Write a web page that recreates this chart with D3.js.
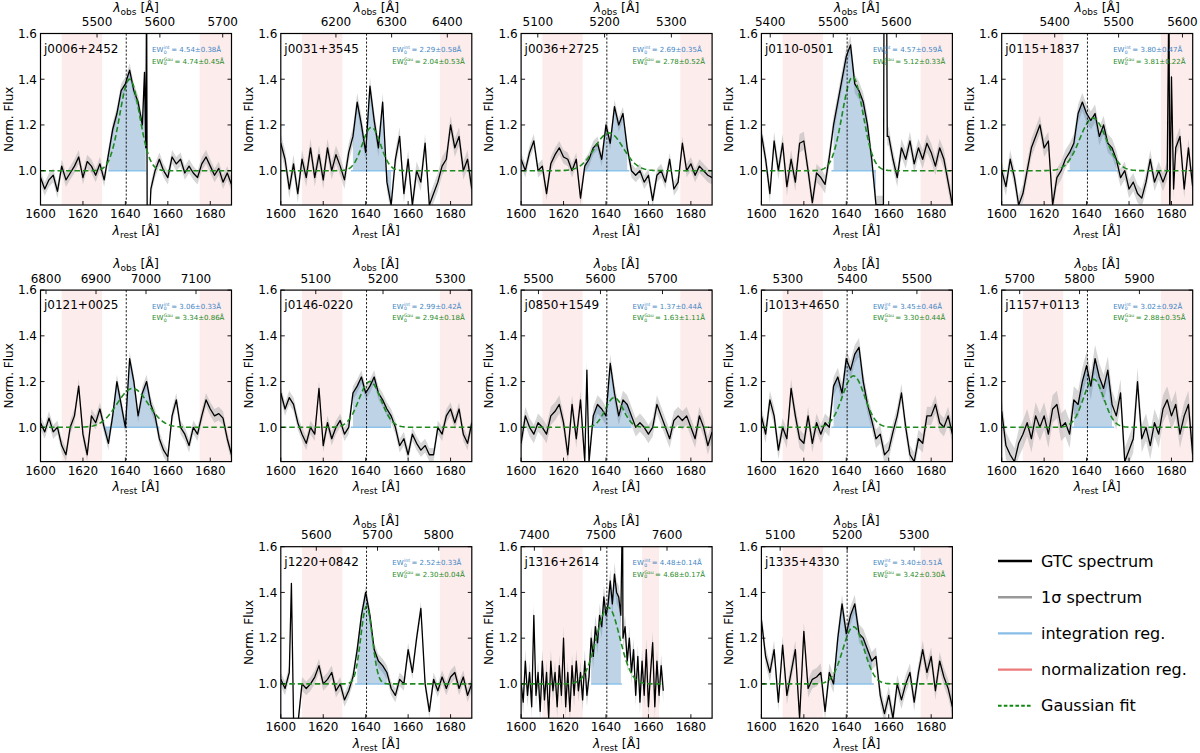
<!DOCTYPE html>
<html>
<head>
<meta charset="utf-8">
<script src="https://cdn.jsdelivr.net/npm/d3@7"></script>
<style>
  body { margin: 0; background: #fff; }
  svg { font-family: "DejaVu Sans", sans-serif; }
</style>
</head>
<body>
<svg id="chart" width="1200" height="753"></svg>
<script>
// ---- data ----
const names = [
  "j0006+2452", "j0031+3545", "j0036+2725", "j0110-0501", "j0115+1837",
  "j0121+0025", "j0146-0220", "j0850+1549", "j1013+4650", "j1157+0113",
  "j1220+0842", "j1316+2614", "j1335+4330",
];

const ewInt = [4.54, 2.29, 2.69, 4.57, 3.80, 3.06, 2.99, 1.37, 3.45, 3.02, 2.52, 4.48, 3.40];
const ewIntErr = [0.38, 0.58, 0.35, 0.59, 0.47, 0.33, 0.42, 0.44, 0.46, 0.92, 0.33, 0.14, 0.51];
const ewGau = [4.74, 2.04, 2.78, 5.12, 3.81, 3.34, 2.94, 1.63, 3.30, 2.88, 2.30, 4.68, 3.42];
const ewGauErr = [0.45, 0.53, 0.52, 0.33, 0.22, 0.86, 0.18, 1.11, 0.44, 0.35, 0.04, 0.17, 0.30];

// observed-frame axis limits (top axis) and its tick labels
const obsDomains = [
  [5410, 5714], [6101, 6444], [5075, 5361], [5386, 5689], [5317, 5616],
  [6789, 7171], [5048, 5332], [5472, 5780], [5259, 5555], [5670, 5989],
  [5542, 5854], [7380, 7668], [5072, 5357],
];
const obsTicks = [
  [5500, 5600, 5700], [6200, 6300, 6400], [5100, 5200, 5300], [5400, 5500, 5600], [5400, 5500, 5600],
  [6800, 6900, 7000, 7100], [5100, 5200, 5300], [5500, 5600, 5700], [5300, 5400, 5500], [5700, 5800, 5900],
  [5600, 5700, 5800], [7400, 7500, 7600], [5100, 5200, 5300],
];

const restTicks = [1600, 1620, 1640, 1660, 1680];
const fluxTicks = [1.0, 1.2, 1.4, 1.6];
const restDomain = [1600, 1690];
const fluxDomain = [0.85, 1.6];
const heII = 1640.4;

// spectra: flux sampled from 1600 Å with the step in gridStep
const gridStep = [2, 2, 2, 2, 2, 2, 2, 2, 2, 2, 2, 1, 2];

const flux_j0006 = [0.97, 0.92, 0.96, 0.98, 0.91, 1.02, 0.96, 0.99, 1.02, 1.06, 0.97, 1.04, 1.02, 0.98, 1.03, 0.96,
  1.07, 1.18, 1.25, 1.35, 1.38, 1.44, 1.35, 1.30, 1.20, 1.80, 0.92, 1.00, 1.05, 1.00, 0.97, 1.06, 1.03, 1.05, 0.99,
  1.02, 0.99, 0.97, 1.03, 1.06, 1.02, 0.98, 1.01, 0.95, 0.99, 0.94];
const flux_j0031 = [1.12, 1.05, 0.92, 1.03, 0.90, 1.05, 0.97, 1.10, 0.97, 1.07, 0.96, 1.10, 1.00, 1.07, 1.02, 0.96,
  1.08, 1.15, 1.30, 1.20, 1.08, 1.37, 1.22, 1.10, 1.30, 0.95, 0.85, 1.05, 1.15, 0.90, 1.05, 0.85, 1.00, 0.95, 1.12,
  0.85, 0.90, 0.95, 1.02, 1.05, 1.20, 1.10, 1.15, 1.00, 1.05, 0.92];
const flux_j0036 = [1.05, 1.00, 1.08, 1.13, 1.00, 1.02, 0.90, 1.03, 1.07, 1.10, 1.06, 1.05, 1.00, 1.05, 0.88, 1.02,
  1.05, 1.10, 1.12, 1.05, 1.20, 1.12, 1.28, 1.20, 1.25, 1.10, 1.00, 0.98, 1.00, 0.95, 0.98, 0.87, 0.98, 1.00, 0.95,
  1.05, 0.92, 0.95, 1.12, 1.00, 1.03, 0.98, 1.02, 1.00, 0.98, 0.97];
const flux_j0110 = [1.16, 1.05, 0.90, 1.13, 1.00, 1.12, 0.93, 1.05, 0.95, 1.12, 1.13, 1.00, 0.86, 0.99, 0.97, 0.94,
  1.06, 1.20, 1.30, 1.40, 1.50, 1.55, 1.38, 1.35, 1.30, 1.20, 1.05, 0.85, 0.85, 1.80, 1.15, 1.05, 0.97, 1.10, 1.05,
  1.13, 1.03, 1.10, 1.05, 1.12, 1.08, 1.02, 1.10, 1.05, 0.95, 0.85];
const flux_j0115 = [1.00, 0.93, 1.05, 0.97, 0.85, 0.90, 1.00, 1.10, 1.15, 1.20, 1.10, 1.13, 0.85, 0.97, 1.00, 1.05,
  1.08, 1.12, 1.25, 1.30, 1.25, 1.22, 1.25, 1.15, 1.20, 1.12, 1.10, 1.05, 0.97, 1.00, 0.92, 0.95, 0.90, 0.88, 0.95,
  1.05, 0.95, 1.00, 0.95, 1.00, 1.41, 1.10, 1.15, 0.92, 1.10, 0.93];
const flux_j0121 = [1.02, 0.98, 1.04, 0.98, 1.00, 0.92, 0.88, 1.00, 1.05, 1.18, 0.97, 0.88, 1.05, 1.02, 1.08, 1.00,
  0.93, 1.05, 1.20, 1.10, 1.00, 1.30, 1.20, 1.05, 1.15, 1.20, 1.10, 1.05, 0.95, 0.90, 0.87, 1.05, 1.12, 1.00, 0.97,
  0.92, 1.00, 0.97, 1.05, 1.12, 1.08, 1.05, 1.06, 1.04, 0.95, 0.88];
const flux_j0146 = [1.15, 1.08, 1.13, 1.10, 1.02, 0.97, 0.93, 1.00, 0.97, 1.17, 0.92, 1.02, 0.95, 1.00, 1.03, 0.97,
  1.00, 1.15, 1.18, 1.22, 1.15, 1.18, 1.22, 1.15, 1.12, 1.08, 1.05, 1.00, 0.92, 0.95, 0.88, 0.97, 0.93, 0.90, 0.92,
  0.88, 0.88, 1.00, 0.97, 1.05, 1.08, 1.02, 1.08, 0.97, 0.93, 1.02];
const flux_j0850 = [0.93, 1.05, 1.00, 0.97, 1.02, 1.00, 0.97, 1.05, 1.07, 1.10, 1.02, 0.88, 1.10, 0.95, 1.12, 0.85,
  0.85, 1.05, 1.10, 1.08, 1.05, 1.28, 1.15, 1.05, 1.12, 1.10, 1.05, 1.00, 1.02, 1.00, 0.97, 1.00, 1.10, 1.05, 1.00,
  0.95, 1.03, 1.05, 1.03, 1.05, 1.00, 0.95, 1.05, 1.00, 0.92, 0.98];
const flux_j1013 = [1.05, 0.97, 1.12, 1.05, 0.90, 1.00, 0.95, 1.17, 1.05, 0.95, 0.93, 1.05, 0.93, 1.02, 0.97, 1.02,
  1.00, 1.18, 1.22, 1.15, 1.30, 1.25, 1.32, 1.35, 1.20, 1.10, 1.03, 0.95, 0.97, 0.88, 0.90, 0.98, 1.05, 1.15, 1.00,
  0.88, 0.85, 0.95, 0.93, 1.05, 1.05, 1.10, 1.02, 1.00, 1.05, 0.97];
const flux_j1157 = [1.07, 0.92, 0.88, 0.85, 0.93, 0.97, 1.02, 0.95, 1.05, 1.00, 1.05, 0.97, 1.08, 1.10, 1.00, 1.02,
  0.97, 1.12, 1.10, 1.20, 1.27, 1.18, 1.30, 1.22, 1.17, 1.25, 1.10, 1.05, 1.15, 0.85, 0.90, 0.95, 1.20, 0.95, 1.00,
  0.92, 1.02, 0.97, 1.08, 1.12, 1.05, 1.10, 0.97, 1.05, 1.10, 0.88];
const flux_j1220 = [1.02, 0.98, 1.05, 0.85, 0.82, 1.00, 0.98, 1.00, 1.03, 1.08, 1.00, 1.02, 1.05, 0.97, 1.00, 0.93,
  0.97, 1.03, 1.15, 1.30, 1.40, 1.30, 1.15, 1.10, 1.08, 1.05, 0.98, 0.95, 1.02, 1.00, 1.15, 1.05, 1.20, 1.33, 1.00,
  0.88, 1.02, 0.97, 1.03, 0.98, 1.03, 1.05, 0.98, 1.03, 0.95, 1.00];
const flux_j1316 = [1.00, 0.92, 1.10, 0.95, 1.05, 0.90, 1.30, 0.95, 1.05, 0.88,
  1.10, 0.93, 1.05, 0.85, 1.10, 0.97, 1.05, 0.90, 1.08, 0.95,
  1.20, 0.90, 1.05, 0.88, 1.08, 0.95, 1.10, 0.97, 1.05, 0.93,
  1.10, 0.95, 1.03, 1.20, 1.12, 1.25, 1.18, 1.30, 1.25, 1.38,
  1.30, 1.35, 1.45, 1.35, 1.48, 1.40, 1.38, 1.30, 1.20, 1.25,
  1.10, 1.20, 1.05, 1.15, 0.95, 1.12, 0.92, 1.10, 0.95, 1.15,
  0.90, 1.05, 1.18, 0.90, 1.10, 0.95, 1.08, 0.97];
const flux_j1335 = [1.28, 1.12, 1.05, 1.15, 0.92, 1.17, 0.95, 1.05, 1.15, 0.85, 1.23, 0.98, 1.02, 1.03, 1.05, 0.88,
  1.05, 1.00, 1.20, 1.35, 1.22, 1.30, 1.35, 1.22, 1.20, 1.15, 1.10, 1.12, 0.95, 0.87, 0.95, 0.85, 1.00, 0.93, 1.00,
  1.05, 0.92, 1.05, 1.15, 1.05, 1.12, 0.97, 1.10, 1.03, 0.98, 0.90];

const spectra = [flux_j0006, flux_j0031, flux_j0036, flux_j0110, flux_j0115, flux_j0121, flux_j0146,
  flux_j0850, flux_j1013, flux_j1157, flux_j1220, flux_j1316, flux_j1335];

// narrow spikes between grid samples: [panel, wavelength, flux]
const spikePoints = [
  [0, 1649.0, 1.43], [0, 1649.6, 1.10], [0, 1650.3, 0.70], [0, 1651.3, 0.75],
  [3, 1657.5, 0.85], [3, 1657.8, 1.80], [3, 1659.0, 1.80], [3, 1659.3, 1.15],
  [4, 1678.8, 1.80], [4, 1679.2, 0.80], [4, 1681.0, 0.92],
  [7, 1631.0, 1.25],
  [10, 1605.0, 1.44], [10, 1607.0, 0.75],
  [11, 1647.8, 1.80],
];

const sigmaBand = [0.03, 0.04, 0.03, 0.04, 0.04, 0.03, 0.03, 0.04, 0.04, 0.06, 0.03, 0.05, 0.04];

const intRanges = [
  [1632, 1649.7], [1633, 1653], [1630, 1651], [1633, 1654], [1631, 1655],
  [1630, 1656], [1633, 1652], [1634, 1652], [1633, 1652], [1633, 1653],
  [1635, 1651], [1633, 1647.5], [1633, 1653],
];
const normRangesDefault = [[1610, 1629], [1675, 1690]];
const normRangesJ1316 = [[1610, 1629], [1657, 1665]];

// Gaussian fit parameters
const gaussAmp = [0.40, 0.19, 0.165, 0.41, 0.23, 0.17, 0.20, 0.13, 0.225, 0.21, 0.34, 0.335, 0.25];
const gaussCen = [1642, 1642.7, 1641.4, 1643, 1643, 1643.4, 1642, 1643.9, 1643.4, 1643.3, 1640.4, 1641, 1643.4];
const gaussSig = [4.7, 4.3, 6.7, 4.9, 6.2, 7.3, 5.2, 4.2, 5.2, 4.8, 2.7, 5.5, 5.0];

const legendLabels = ["GTC spectrum", "1σ spectrum", "integration reg.", "normalization reg.", "Gaussian fit"];

// ---- drawing ----
const svg = d3.select("#chart");
const W = 191;
const H = 171.5;
const colX = (c) => 40.5 + 240.3 * c;
const rowY = (r) => 33.5 + 256.6 * r;
const layout = [
  [0, 0], [0, 1], [0, 2], [0, 3], [0, 4],
  [1, 0], [1, 1], [1, 2], [1, 3], [1, 4],
  [2, 1], [2, 2], [2, 3],
];

const BLUE_TXT = "#3f86c4";
const GREEN = "#1f8a1f";

function measure(text, size) {
  const t = svg.append("text").attr("font-size", size).text(text);
  const w = t.node().getComputedTextLength();
  t.remove();
  return w;
}

function ewLabel(g, x0, y0, kind, val, err, color) {
  const wEW = measure("EW", 7);
  const wKind = measure(kind, 4.6);
  g.append("text").attr("x", x0).attr("y", y0).attr("font-size", 7).attr("fill", color).text("EW");
  g.append("text").attr("x", x0 + wEW + 0.3).attr("y", y0 - 2.8)
    .attr("font-size", 4.6).attr("fill", color).text(kind);
  g.append("text").attr("x", x0 + wEW + 0.3).attr("y", y0 + 1.8)
    .attr("font-size", 4.6).attr("fill", color).text("0");
  g.append("text").attr("x", x0 + wEW + wKind + 1.8).attr("y", y0)
    .attr("font-size", 7).attr("fill", color)
    .text(`= ${val.toFixed(2)}±${err.toFixed(2)}Å`);
}

function lambdaLabel(g, x, y, sub) {
  const t = g.append("text").attr("x", x).attr("y", y)
    .attr("text-anchor", "middle").attr("font-size", 12.5);
  t.append("tspan").attr("font-style", "italic").text("λ");
  t.append("tspan").attr("font-size", 9).attr("dy", 3).text(sub);
  t.append("tspan").attr("dy", -3).text(" [Å]");
}

names.forEach((name, i) => {
  const [r, c] = layout[i];
  const g = svg.append("g").attr("transform", `translate(${colX(c)},${rowY(r)})`);

  const x = d3.scaleLinear().domain(restDomain).range([0, W]);
  const xTop = d3.scaleLinear().domain(obsDomains[i]).range([0, W]);
  const y = d3.scaleLinear().domain(fluxDomain).range([H, 0]);

  g.append("clipPath").attr("id", `clip${i}`)
    .append("rect").attr("width", W).attr("height", H);
  const plot = g.append("g").attr("clip-path", `url(#clip${i})`);

  // normalization regions
  const normRanges = name === "j1316+2614" ? normRangesJ1316 : normRangesDefault;
  normRanges.forEach(([a, b]) => {
    plot.append("rect")
      .attr("x", x(a)).attr("width", x(b) - x(a))
      .attr("y", 0).attr("height", H)
      .attr("fill", "#f08080").attr("opacity", 0.15);
  });

  const step = gridStep[i];
  const pts = spectra[i]
    .map((f, k) => [restDomain[0] + k * step, f])
    .concat(spikePoints.filter((s) => s[0] === i).map((s) => [s[1], s[2]]))
    .sort((a, b) => a[0] - b[0]);
  const lastLam = d3.max(pts, (d) => d[0]);

  // 1 sigma band
  const sg = sigmaBand[i];
  plot.append("path").datum(pts)
    .attr("d", d3.area().x((d) => x(d[0])).y0((d) => y(d[1] - sg)).y1((d) => y(d[1] + sg)))
    .attr("fill", "#b5b5b5").attr("opacity", 0.55);

  // integration region fill
  const [ia, ib] = intRanges[i];
  const inPts = pts.filter((d) => d[0] >= ia && d[0] <= ib);
  plot.append("path").datum(inPts)
    .attr("d", d3.area().x((d) => x(d[0])).y0(y(1)).y1((d) => y(d[1])))
    .attr("fill", "steelblue").attr("opacity", 0.35);
  plot.append("line")
    .attr("x1", x(ia)).attr("x2", x(ib)).attr("y1", y(1)).attr("y2", y(1))
    .attr("stroke", "#8cc3ea").attr("stroke-width", 1.5);

  // spectrum
  plot.append("path").datum(pts)
    .attr("d", d3.line().x((d) => x(d[0])).y((d) => y(d[1])))
    .attr("fill", "none").attr("stroke", "#000")
    .attr("stroke-width", 1.3).attr("stroke-linejoin", "round");

  // Gaussian fit, evaluated over the spectrum's own wavelength span
  const gl = d3.range(restDomain[0], Math.min(restDomain[1], lastLam) + 0.01, 0.5);
  const gauss = (l) => 1 + gaussAmp[i] * Math.exp(-0.5 * ((l - gaussCen[i]) / gaussSig[i]) ** 2);
  plot.append("path").datum(gl)
    .attr("d", d3.line().x((l) => x(l)).y((l) => y(gauss(l))))
    .attr("fill", "none").attr("stroke", GREEN)
    .attr("stroke-width", 1.6).attr("stroke-dasharray", "5.5,3");

  // He II rest wavelength
  plot.append("line")
    .attr("x1", x(heII)).attr("x2", x(heII)).attr("y1", 0).attr("y2", H)
    .attr("stroke", "#000").attr("stroke-width", 0.9).attr("stroke-dasharray", "2.2,1.8");

  // frame
  g.append("rect").attr("width", W).attr("height", H)
    .attr("fill", "none").attr("stroke", "#000").attr("stroke-width", 1.2);

  // ticks (inward)
  const TL = 4;
  restTicks.forEach((t) => {
    g.append("line").attr("x1", x(t)).attr("x2", x(t)).attr("y1", H).attr("y2", H - TL)
      .attr("stroke", "#000").attr("stroke-width", 0.9);
    g.append("text").attr("x", x(t)).attr("y", H + 13).attr("text-anchor", "middle")
      .attr("font-size", 12).text(t);
  });
  obsTicks[i].forEach((t) => {
    g.append("line").attr("x1", xTop(t)).attr("x2", xTop(t)).attr("y1", 0).attr("y2", TL)
      .attr("stroke", "#000").attr("stroke-width", 0.9);
    g.append("text").attr("x", xTop(t)).attr("y", -7.5).attr("text-anchor", "middle")
      .attr("font-size", 12).text(t);
  });
  fluxTicks.forEach((t) => {
    g.append("line").attr("x1", 0).attr("x2", TL).attr("y1", y(t)).attr("y2", y(t))
      .attr("stroke", "#000").attr("stroke-width", 0.9);
    g.append("line").attr("x1", W).attr("x2", W - TL).attr("y1", y(t)).attr("y2", y(t))
      .attr("stroke", "#000").attr("stroke-width", 0.9);
    g.append("text").attr("x", -3.5).attr("y", y(t) + 4.3).attr("text-anchor", "end")
      .attr("font-size", 12).text(t.toFixed(1));
  });

  // axis titles
  lambdaLabel(g, W / 2, H + 29.5, "rest");
  lambdaLabel(g, W / 2, -22, "obs");
  g.append("text")
    .attr("transform", `translate(-28,${H / 2}) rotate(-90)`)
    .attr("text-anchor", "middle").attr("font-size", 12).text("Norm. Flux");

  // annotations
  g.append("text").attr("x", 3.5).attr("y", 19).attr("font-size", 12).text(name);
  ewLabel(g, 111.5, 18.5, "int", ewInt[i], ewIntErr[i], BLUE_TXT);
  ewLabel(g, 111.5, 30, "Gau", ewGau[i], ewGauErr[i], GREEN);
});

// legend
const legendStyles = [
  { color: "#000", dash: null, width: 2.4 },
  { color: "#999", dash: null, width: 2.4 },
  { color: "#87bde6", dash: null, width: 2.4 },
  { color: "#eb7b7b", dash: null, width: 2.4 },
  { color: "#118811", dash: "3.6,2.2", width: 2 },
];
const legend = svg.append("g").attr("transform", "translate(998,561)");
legendLabels.forEach((label, k) => {
  const ly = k * 36.2;
  const st = legendStyles[k];
  legend.append("line").attr("x1", 0).attr("x2", 34).attr("y1", ly).attr("y2", ly)
    .attr("stroke", st.color).attr("stroke-width", st.width)
    .attr("stroke-dasharray", st.dash);
  legend.append("text").attr("x", 43).attr("y", ly + 5.5).attr("font-size", 16).text(label);
});
</script>
</body>
</html>
